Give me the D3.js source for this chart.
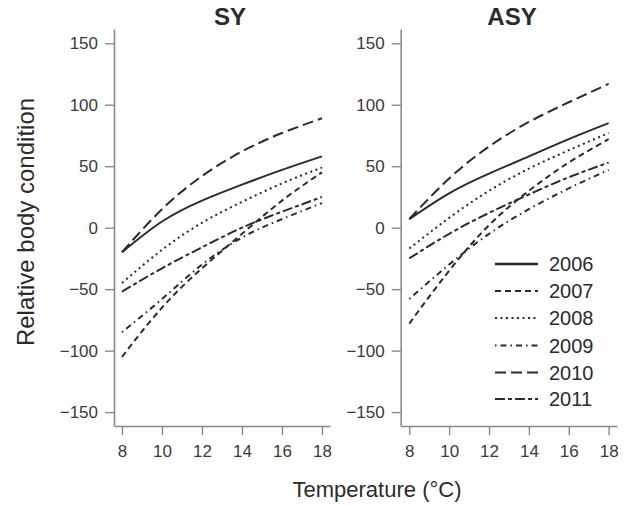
<!DOCTYPE html>
<html><head><meta charset="utf-8">
<script src="https://cdn.jsdelivr.net/npm/d3@7"></script>
<style>body{margin:0;background:#fff}svg{display:block}</style>
</head><body>
<svg id="c" width="625" height="506"></svg>
<script>
const temps = [8, 10, 12, 14, 16, 18];
const years = ["2006", "2007", "2008", "2009", "2010", "2011"];
const panels = ["SY", "ASY"];
const xTicks = [8, 10, 12, 14, 16, 18];
const yTicks = [-150, -100, -50, 0, 50, 100, 150];
// SY values at temps
const sy2006 = [-20, 5, 22, 35, 47, 58];
const sy2007 = [-105, -65, -33, -5, 22, 45];
const sy2008 = [-45, -18, 4, 21, 36, 49];
const sy2009 = [-85, -58, -30, -8, 7, 20];
const sy2010 = [-20, 15, 42, 62, 77, 89];
const sy2011 = [-52, -33, -16, 0, 13, 25];
// ASY values at temps
const asy2006 = [7, 28, 44, 58, 72, 85];
const asy2007 = [-78, -35, 2, 30, 53, 72];
const asy2008 = [-17, 8, 30, 48, 63, 77];
const asy2009 = [-58, -30, -5, 15, 32, 47];
const asy2010 = [7, 40, 66, 86, 102, 117];
const asy2011 = [-25, -5, 12, 27, 41, 53];

const seriesData = {
  SY: [sy2006, sy2007, sy2008, sy2009, sy2010, sy2011],
  ASY: [asy2006, asy2007, asy2008, asy2009, asy2010, asy2011]
};
const dashes = [null, "6,4", "2,3.5", "1.5,4,6,4", "11,5", "10,3,4,3"];

const svg = d3.select("#c");
const ink = "#2b2b2b";
const axisCol = "#8a8a8a";
const font = "Liberation Sans, Arial, sans-serif";

const y = d3.scaleLinear().domain([-161.3, 161.6]).range([426, 29]);
const panelX = {
  SY: d3.scaleLinear().domain([7.6, 18.4]).range([114, 330]),
  ASY: d3.scaleLinear().domain([7.57, 18.42]).range([400.7, 617])
};
const titleX = {SY: 230, ASY: 512};

panels.forEach(p => {
  const x = panelX[p];
  const ga = svg.append("g").attr("transform", `translate(${x.range()[0]},0)`)
    .call(d3.axisLeft(y).tickValues(yTicks).tickSize(9).tickSizeOuter(0).tickPadding(7)
      .tickFormat(d => d < 0 ? "\u2212" + Math.abs(d) : d));
  const gb = svg.append("g").attr("transform", `translate(0,426)`)
    .call(d3.axisBottom(x).tickValues(xTicks).tickSize(9).tickSizeOuter(0).tickPadding(10));
  [ga, gb].forEach(g => {
    g.selectAll("path.domain").attr("stroke", axisCol).attr("stroke-width", 1.6);
    g.selectAll(".tick line").attr("stroke", axisCol).attr("stroke-width", 1.4);
    g.selectAll(".tick text").attr("fill", "#3a3a3a").style("font-family", font).style("font-size", "17px");
  });

  svg.append("text").attr("x", titleX[p]).attr("y", 25).attr("text-anchor", "middle")
    .style("font-family", font).style("font-size", "24px").style("font-weight", "bold")
    .attr("fill", ink).text(p);

  const line = d3.line().x((d, i) => x(temps[i])).y(d => y(d)).curve(d3.curveNatural);
  seriesData[p].forEach((vals, k) => {
    svg.append("path").attr("d", line(vals)).attr("fill", "none")
      .attr("stroke", ink).attr("stroke-width", 2)
      .attr("stroke-dasharray", dashes[k]);
  });
});

// Legend
const legY = [264, 291, 318, 345.5, 372.5, 399];
years.forEach((yr, k) => {
  svg.append("line").attr("x1", 495).attr("x2", 538).attr("y1", legY[k]).attr("y2", legY[k])
    .attr("stroke", ink).attr("stroke-width", k === 0 ? 2.4 : 2).attr("stroke-dasharray", dashes[k]);
  svg.append("text").attr("x", 549).attr("y", legY[k]).attr("dy", "0.35em")
    .style("font-family", font).style("font-size", "20px").attr("fill", ink).text(yr);
});

// Axis labels
svg.append("text").attr("transform", "translate(34,222) rotate(-90)").attr("text-anchor", "middle")
  .style("font-family", font).style("font-size", "24px").attr("fill", ink).text("Relative body condition");
svg.append("text").attr("x", 377).attr("y", 497).attr("text-anchor", "middle")
  .style("font-family", font).style("font-size", "22px").attr("fill", ink).text("Temperature (\u00B0C)");
</script>
</body></html>
